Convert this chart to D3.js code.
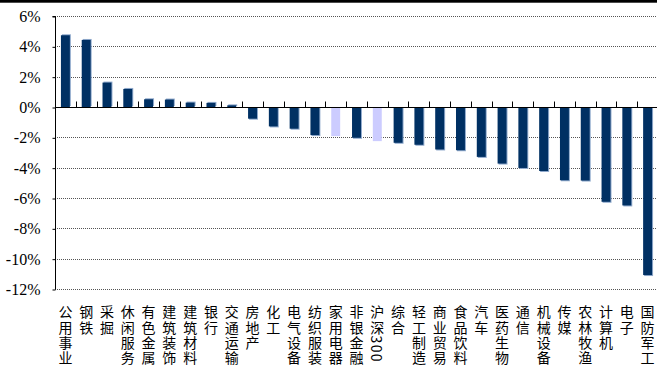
<!DOCTYPE html>
<html>
<head>
<meta charset="utf-8">
<script src="https://cdn.jsdelivr.net/npm/d3@7"></script>
<style>
  html, body { margin: 0; padding: 0; background: #fff; }
  svg { display: block; }
</style>
</head>
<body>
<svg id="chart" width="657" height="369"></svg>
<script>
// Industry returns (%), sorted high to low; 沪深300 and 家用电器 highlighted
const categories = ["公用事业","钢铁","采掘","休闲服务","有色金属","建筑装饰","建筑材料","银行","交通运输","房地产","化工","电气设备","纺织服装","家用电器","非银金融","沪深300","综合","轻工制造","商业贸易","食品饮料","汽车","医药生物","通信","机械设备","传媒","农林牧渔","计算机","电子","国防军工"];
const values = [4.73, 4.42, 1.61, 1.19, 0.51, 0.49, 0.29, 0.27, 0.11, -0.77, -1.28, -1.43, -1.85, -1.92, -2.03, -2.25, -2.36, -2.49, -2.80, -2.85, -3.29, -3.73, -4.02, -4.22, -4.83, -4.85, -6.25, -6.49, -11.08];
const highlighted = ["家用电器", "沪深300"];
const yTicks = [6, 4, 2, 0, -2, -4, -6, -8, -10, -12];

const svg = d3.select("#chart");
const W = 657, H = 369;
const plot = { left: 55, right: 658, top: 16, bottom: 289 };

const x = d3.scaleBand().domain(categories).range([plot.left, plot.right]).padding(0);
const y = d3.scaleLinear().domain([-12, 6]).range([plot.bottom, plot.top]);
const barW = x.bandwidth() * 0.43;

// thin black band along the top edge
svg.append("rect").attr("x", 0).attr("y", 0).attr("width", W).attr("height", 2.7).attr("fill", "#000");

// dotted gridlines
svg.append("g").selectAll("line").data(yTicks.filter(d => d !== 0)).join("line")
  .attr("x1", plot.left).attr("x2", W)
  .attr("y1", d => Math.round(y(d)) + 0.5).attr("y2", d => Math.round(y(d)) + 0.5)
  .attr("stroke", "#555").attr("stroke-width", 1).attr("stroke-dasharray", "1,1");

// y axis
const yAxis = d3.axisLeft(y).tickValues(yTicks).tickFormat(d => d + "%").tickSize(3).tickPadding(12);
const gy = svg.append("g").attr("transform", `translate(${plot.left + 0.5},0.5)`).call(yAxis);
gy.select(".domain").attr("stroke", "#000").attr("d", `M-3,${Math.round(y(6))}H0V${Math.round(y(-12))}`);
gy.selectAll(".tick line").attr("stroke", "#000");
gy.selectAll(".tick text")
  .attr("font-family", "'Liberation Serif', 'Times New Roman', serif")
  .attr("font-size", 16).attr("fill", "#000");

// bars: a pale offset edge under each dark bar
const bars = svg.append("g");
const barY = d => y(Math.max(0, d.v));
const barH = d => Math.abs(y(d.v) - y(0));
const data = categories.map((c, i) => ({ c, v: values[i] }));
bars.selectAll("rect.edge").data(data.filter(d => !highlighted.includes(d.c))).join("rect")
  .attr("class", "edge")
  .attr("x", d => x(d.c) + (x.bandwidth() - barW) / 2 + 1)
  .attr("y", d => barY(d) + (d.v < 0 ? 1 : -1))
  .attr("width", barW).attr("height", d => barH(d))
  .attr("fill", "#8fa9cc");
bars.selectAll("rect.bar").data(data).join("rect")
  .attr("class", "bar")
  .attr("x", d => x(d.c) + (x.bandwidth() - barW) / 2)
  .attr("y", barY)
  .attr("width", barW).attr("height", barH)
  .attr("fill", d => highlighted.includes(d.c) ? "#ccccff" : "#003063");

// zero line with category tick marks pointing up
const y0 = Math.round(y(0)) + 0.5;
svg.append("line").attr("x1", plot.left).attr("x2", W).attr("y1", y0).attr("y2", y0)
  .attr("stroke", "#000").attr("stroke-width", 1);
svg.append("g").selectAll("line").data(categories.slice(1)).join("line")
  .attr("x1", d => Math.round(x(d)) + 0.5).attr("x2", d => Math.round(x(d)) + 0.5)
  .attr("y1", y0 - 6).attr("y2", y0)
  .attr("stroke", "#000").attr("stroke-width", 1);

// vertical category labels (vertical writing mode; digits run sideways)
svg.append("g")
  .attr("font-family", "'Noto Sans CJK SC', sans-serif")
  .attr("font-size", 14).attr("fill", "#000")
  .selectAll("text").data(categories).join("text")
  .style("writing-mode", "vertical-rl")
  .style("letter-spacing", "1.3px")
  .attr("x", d => x(d) + x.bandwidth() / 2)
  .attr("y", 305)
  .text(d => d);
</script>
</body>
</html>
